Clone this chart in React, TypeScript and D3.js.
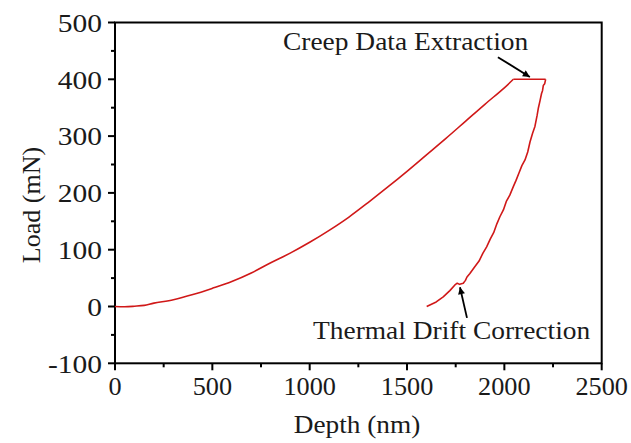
import React from "react";
import * as d3 from "d3";

const loadDepth = [0, 50, 100, 150, 200, 300, 400, 500, 600, 700, 800, 900, 1000, 1100, 1200, 1300, 1400, 1500, 1600, 1700, 1800, 1900, 2000, 2046];
const loadForce = [0, -0.5, 0.5, 2, 6, 12, 21, 32, 44, 59, 77, 94, 113, 134, 157, 183, 210, 238, 267, 296, 326, 356, 385, 400];
const holdDepth = [2046, 2212];
const holdForce = [400, 400];
const unloadDepth = [2212, 2207, 2200, 2196, 2191, 2183, 2175, 2168, 2157, 2145, 2132, 2120, 2106, 2090, 2075, 2060, 2046, 2028, 2010, 1995, 1977, 1962, 1945, 1928, 1909, 1890, 1870, 1848, 1823, 1808, 1800, 1789, 1770, 1758, 1746, 1720, 1686, 1650, 1601];
const unloadForce = [400, 392, 389, 380, 375, 362, 350, 336, 317, 305, 290, 272, 258, 248, 235, 222, 211, 196, 185, 170, 158, 146, 130, 119, 105, 94, 80, 70, 58, 52, 46, 41, 39, 41, 38, 28, 17, 8, 0];

const xTicks = [0, 500, 1000, 1500, 2000, 2500];
const xMinor = [250, 750, 1250, 1750, 2250];
const yTicks = [-100, 0, 100, 200, 300, 400, 500];
const yMinor = [-50, 50, 150, 250, 350, 450];

const annotations = [
  { text: "Creep Data Extraction", tx: 863, ty: 452, ax0: 1967, ay0: 439, ax1: 2131, ay1: 404 },
  { text: "Thermal Drift Correction", tx: 1017, ty: -57, ax0: 1808, ay0: -20, ax1: 1772, ay1: 34 },
];

const W = 631, H = 443;
const left = 115, right = 601.7, top = 22.5, bottom = 363.3;
const FONT = "'Liberation Serif', 'Times New Roman', serif";
const RED = "#d01818";
const INK = "#1a1a1a";

function Txt(props: { x: number; y: number; sx?: number; size: number; anchor?: string; dy?: string; children: React.ReactNode }) {
  const { x, y, sx = 1, size, anchor = "start", dy, children } = props;
  return (
    <text transform={`translate(${x},${y}) scale(${sx},1)`} textAnchor={anchor} dy={dy} fontSize={size} fill={INK}>
      {children}
    </text>
  );
}

export default function App() {
  const x = d3.scaleLinear().domain([0, 2500]).range([left, right]);
  const y = d3.scaleLinear().domain([-100, 500]).range([bottom, top]);
  const line = d3.line<[number, number]>().x((d) => x(d[0])).y((d) => y(d[1]));
  const smooth = d3.line<[number, number]>().x((d) => x(d[0])).y((d) => y(d[1])).curve(d3.curveCatmullRom);
  const loadPts = loadDepth.map((d, i) => [d, loadForce[i]] as [number, number]);
  const holdPts = holdDepth.map((d, i) => [d, holdForce[i]] as [number, number]);
  const unloadPts = unloadDepth.map((d, i) => [d, unloadForce[i]] as [number, number]);

  return (
    <svg width={W} height={H} style={{ position: "absolute", left: 0, top: 0, background: "#fff" }} fontFamily={FONT}>
      <defs>
        <marker id="ah" viewBox="0 0 10 10" refX="10" refY="5" markerWidth="9" markerHeight="7" orient="auto" markerUnits="userSpaceOnUse">
          <path d="M0,0 L10,5 L0,10 z" fill="#000" />
        </marker>
      </defs>
      <rect x={left} y={top} width={right - left} height={bottom - top} fill="none" stroke="#000" strokeWidth={2} />
      {xTicks.map((t) => (
        <g key={"x" + t}>
          <line x1={x(t)} x2={x(t)} y1={bottom} y2={bottom + 7} stroke="#000" strokeWidth={2} />
          <Txt x={x(t)} y={bottom + 32} sx={1.05} size={25} anchor="middle">{t}</Txt>
        </g>
      ))}
      {xMinor.map((t) => (
        <line key={"xm" + t} x1={x(t)} x2={x(t)} y1={bottom} y2={bottom + 4} stroke="#000" strokeWidth={2} />
      ))}
      {yTicks.map((t) => (
        <g key={"y" + t}>
          <line x1={left - 7} x2={left} y1={y(t)} y2={y(t)} stroke="#000" strokeWidth={2} />
          <Txt x={left - 13} y={y(t)} dy="0.37em" sx={1.18} size={25} anchor="end">{t}</Txt>
        </g>
      ))}
      {yMinor.map((t) => (
        <line key={"ym" + t} x1={left - 4} x2={left} y1={y(t)} y2={y(t)} stroke="#000" strokeWidth={2} />
      ))}
      <Txt x={357} y={433} sx={1.05} size={26} anchor="middle">Depth (nm)</Txt>
      <text transform={`translate(39.5, 205) rotate(-90)`} textAnchor="middle" fontSize={26} fill={INK}>Load (mN)</text>
      <path d={smooth(loadPts) || ""} fill="none" stroke={RED} strokeWidth={1.6} />
      <path d={line(holdPts) || ""} fill="none" stroke={RED} strokeWidth={1.6} />
      <path d={line(unloadPts) || ""} fill="none" stroke={RED} strokeWidth={1.6} strokeLinejoin="round" />
      {annotations.map((a) => (
        <g key={a.text}>
          <Txt x={x(a.tx)} y={y(a.ty)} sx={1.055} size={26}>{a.text}</Txt>
          <line x1={x(a.ax0)} y1={y(a.ay0)} x2={x(a.ax1)} y2={y(a.ay1)} stroke="#000" strokeWidth={1.8} markerEnd="url(#ah)" />
        </g>
      ))}
    </svg>
  );
}
